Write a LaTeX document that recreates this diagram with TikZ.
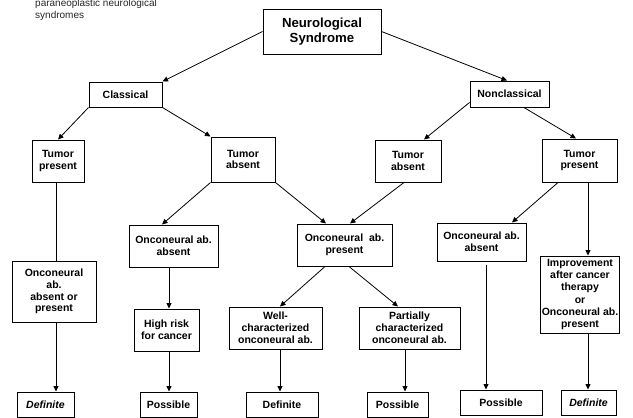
\documentclass[tikz,border=0pt]{standalone}
\usepackage{fontspec}
\setmainfont{Liberation Sans}
\usetikzlibrary{calc,arrows.meta}
\newcommand\lblfont{\fontsize{10.5}{11.8}\selectfont\bfseries}
\newcommand\bigfont{\fontsize{13.2}{15}\selectfont\bfseries}
\tikzset{
  box/.style={draw, line width=1pt, inner sep=1pt, align=center, font=\lblfont},
  ln/.style={line width=0.8pt},
  arr/.style={line width=0.8pt, -{Triangle[length=5.5pt,width=5pt]}},
}
\begin{document}
\begin{tikzpicture}[x=1pt,y=-1pt]
\useasboundingbox (0,0) rectangle (633,418);
\node[anchor=north west, inner sep=0, align=left, font=\fontsize{10}{12}\selectfont, text=black!85] (title) at (35,-1) {paraneoplastic neurological\\syndromes};

\node[box, font=\bigfont, minimum width=118, minimum height=45] (ns) at (322,31.5) {Neurological\\Syndrome};
\node[box, minimum width=73, minimum height=25] (cl) at (125.5,94.5) {Classical};
\node[box, minimum width=79, minimum height=26] (nc) at (509.5,94) {Nonclassical};

\node[box, minimum width=52, minimum height=42] (tpl) at (58,161) {Tumor\\present};
\node[box, minimum width=64, minimum height=45] (tal) at (243,159.5) {Tumor\\absent};
\node[box, minimum width=66, minimum height=42] (tar) at (408,161) {Tumor\\absent};
\node[box, minimum width=75, minimum height=43] (tpr) at (579.5,160.5) {Tumor\\present};

\node[box, minimum width=84, minimum height=61] (onl) at (54,291.5) {Onconeural\\ab.\\absent or\\present};
\node[box, minimum width=89, minimum height=42] (onal) at (173.5,246) {Onconeural ab.\\absent};
\node[box, minimum width=95, minimum height=42] (onp) at (344.5,245) {Onconeural\ \ ab.\\present};
\node[box, minimum width=89, minimum height=38] (onar) at (481.5,242) {Onconeural ab.\\absent};
\node[box, minimum width=74, minimum height=77, font=\fontsize{10.5}{12.2}\selectfont\bfseries] (imp) at (580,294.5) {Improvement\\after cancer\\therapy\\or\\Onconeural ab.\\present};

\node[box, minimum width=65, minimum height=42] (hr) at (166.5,330) {High risk\\for cancer};
\node[box, minimum width=93, minimum height=42] (well) at (275.5,328) {Well-\\characterized\\onconeural ab.};
\node[box, minimum width=101, minimum height=42] (part) at (409.5,328) {Partially\\characterized\\onconeural ab.};

\node[box, minimum width=57, minimum height=25] (defl) at (45.5,404.5) {\itshape Definite};
\node[box, minimum width=57, minimum height=25] (p1) at (168.5,404.5) {Possible};
\node[box, minimum width=72, minimum height=25] (def2) at (282,404.5) {Definite};
\node[box, minimum width=61, minimum height=25] (p2) at (397.5,404.5) {Possible};
\node[box, minimum width=82, minimum height=25] (p3) at (501,402.5) {Possible};
\node[box, minimum width=55, minimum height=25] (def3) at (588.5,402.5) {\itshape Definite};

\draw[arr] (ns.west) -- (cl.north east);
\draw[arr] (ns.east) -- ($(nc.north)+(-2.5,0)$);
\draw[arr] (cl.south west) -- (tpl.north);
\draw[arr] (cl.south east) -- (tal.north west);
\draw[arr] ($(nc.south west)+(0,-5)$) -- ($(tar.north)+(16,0)$);
\draw[arr] ($(nc.south)+(14.5,0)$) -- ($(tpr.north)+(-3.5,0)$);
\draw[ln] ($(tpl.south)+(-2,0)$) -- ($(onl.north)+(2,0)$);
\draw[arr] ($(onl.south)+(2,0)$) -- ($(defl.north)+(10.5,0)$);
\draw[arr] (tal.south west) -- ($(onal.north)+(-11.5,0)$);
\draw[arr] (tal.south east) -- ($(onp.north)+(-18.5,0)$);
\draw[arr] ($(tar.south)+(-4,0)$) -- ($(onp.north)+(5.5,0)$);
\draw[arr] ($(onal.south)+(-4.5,0)$) -- ($(hr.north)+(2.5,0)$);
\draw[arr] ($(hr.south)+(2.5,0)$) -- ($(p1.north)+(0.5,0)$);
\draw[arr] ($(onp.south)+(-19.5,0)$) -- ($(well.north)+(4.5,0)$);
\draw[arr] ($(onp.south)+(4.5,0)$) -- ($(part.north)+(-11.5,0)$);
\draw[arr] ($(well.south)+(4.5,0)$) -- ($(def2.north)+(-2,0)$);
\draw[arr] ($(part.south)+(-4.5,0)$) -- ($(p2.north)+(7.5,0)$);
\draw[arr] ($(tpr.south)+(-21.5,0)$) -- ($(onar.north)+(30.5,0)$);
\draw[arr] ($(onar.south)+(4.5,3)$) -- ($(p3.north)+(-15,0)$);
\draw[arr] ($(tpr.south)+(8.5,0)$) -- ($(imp.north)+(8,0)$);
\draw[arr] ($(imp.south)+(8,0)$) -- ($(def3.north)+(-0.5,0)$);
\end{tikzpicture}
\end{document}
